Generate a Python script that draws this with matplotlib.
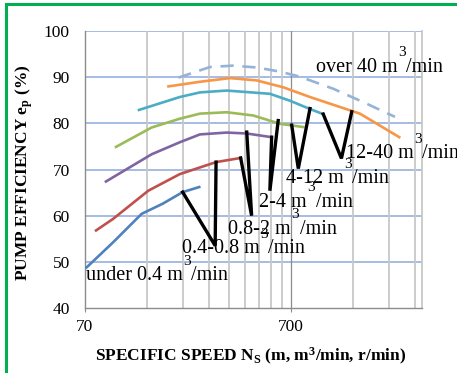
import matplotlib
matplotlib.use("Agg")
import matplotlib.pyplot as plt
from matplotlib.patches import Rectangle
from matplotlib.ticker import FixedLocator, NullFormatter

plt.rcParams['font.family'] = ['Liberation Serif', 'DejaVu Serif']
plt.rcParams['mathtext.fontset'] = 'custom'
plt.rcParams['mathtext.rm'] = 'Liberation Serif'
plt.rcParams['mathtext.bf'] = 'Liberation Serif:bold'
plt.rcParams['mathtext.default'] = 'bf'

# efficiency curves (Ns, %)
under04_x = [71.3, 95.7, 131.9, 167, 208.6, 251]
under04_y = [48.8, 54.2, 60.4, 62.6, 65.1, 66.2]
r04_08_x = [79.2, 95.8, 142, 202, 303, 399]
r04_08_y = [56.8, 59.3, 65.4, 69.0, 71.6, 72.5]
r08_2_x = [88.5, 147.5, 202, 253, 341, 427, 564]
r08_2_y = [67.4, 73.3, 75.9, 77.6, 78.0, 77.8, 77.0]
r2_4_x = [99, 147.5, 202, 253, 341, 459, 619, 803]
r2_4_y = [74.9, 79.1, 81.0, 82.1, 82.4, 81.7, 79.9, 79.2]
r4_12_x = [128, 202, 253, 341, 553, 692, 866, 1004]
r4_12_y = [82.9, 85.7, 86.7, 87.1, 86.4, 84.9, 83.1, 82.0]
r12_40_x = [178, 253, 354, 477, 643, 866, 1513, 2350]
r12_40_y = [88.0, 89.0, 89.8, 89.3, 87.8, 85.7, 82.1, 77.0]
over40_x = [199, 283, 366, 477, 619, 774, 1122, 1570, 2240]
over40_y = [89.9, 92.2, 92.5, 92.1, 91.2, 90.1, 87.5, 84.6, 81.4]

# black leader zigzags (curve -> label point -> next curve)
lead_x = [[208.6, 300, 303], [399, 451, 427], [564, 553, 607],
          [706, 760, 866], [1004, 1231, 1381]]
lead_y = [[65.1, 53.5, 71.6], [72.5, 60.0, 78.1], [77.0, 65.4, 80.6],
          [79.6, 70.2, 83.2], [82.0, 72.4, 82.5]]

label_txt = ["under 0.4", "0.4-0.8", "0.8-2", "2-4", "4-12", "12-40", "over 40"]
label_x = [70.5, 206, 347, 491, 662, 1294, 925]
label_y = [47.0, 52.8, 57.1, 62.9, 68.0, 73.4, 92.2]

fig = plt.figure(figsize=(4.57, 3.73), dpi=100)
ax = fig.add_axes([85/457, 1-308/373, 337/457, 277/373])

ax.set_xscale('log')
ax.set_xlim(70, 3030)
ax.set_ylim(40, 100)

for y in range(50, 101, 10):
    ax.axhline(y, color='#8EAADB', lw=1.1, zorder=1)
minors = [140, 210, 280, 350, 420, 490, 560, 630, 1400, 2100, 2800]
for x in minors:
    ax.axvline(x, color='#C8C8C8', lw=1.3, zorder=1)
ax.axvline(700, color='#8C8C8C', lw=0.9, zorder=1)

ax.plot(under04_x, under04_y, color='#4F81BD', lw=1.9, zorder=3)
ax.plot(r04_08_x, r04_08_y, color='#C0504D', lw=1.9, zorder=3)
ax.plot(r08_2_x, r08_2_y, color='#8064A2', lw=1.9, zorder=3)
ax.plot(r2_4_x, r2_4_y, color='#9BBB59', lw=1.9, zorder=3)
ax.plot(r4_12_x, r4_12_y, color='#4BACC6', lw=1.9, zorder=3)
ax.plot(r12_40_x, r12_40_y, color='#F79646', lw=1.9, zorder=3)
ax.plot(over40_x, over40_y, color='#95B3D7', lw=1.9, dashes=(5, 3.3), zorder=3)
for lx, ly in zip(lead_x, lead_y):
    ax.plot(lx, ly, color='black', lw=2.4, zorder=4, solid_joinstyle='miter')

for t, x, y in zip(label_txt, label_x, label_y):
    t1 = ax.text(x, y, t + " m", fontsize=14.5, va='center', ha='left', zorder=5)
    t2 = ax.annotate("3", xy=(1, 0.5), xycoords=t1, xytext=(0.5, 10.5),
                     textcoords='offset points', fontsize=11, va='center', ha='left')
    ax.annotate("/min", xy=(1, 0.5), xycoords=(t2, t1), xytext=(0.3, 0),
                textcoords='offset points', fontsize=14.5, va='center', ha='left')

ax.xaxis.set_major_locator(FixedLocator([70, 700]))
ax.xaxis.set_minor_locator(FixedLocator([]))
ax.set_xticklabels(['70', '700'])
ax.xaxis.set_minor_formatter(NullFormatter())
ax.set_yticks(range(40, 101, 10))
ax.tick_params(axis='x', length=3, color='#8C8C8C', labelsize=12.5, pad=5)
ax.tick_params(axis='y', length=0, labelsize=12.5, pad=11)

for s in ['left', 'bottom']:
    ax.spines[s].set_color('#8C8C8C')
    ax.spines[s].set_linewidth(1.0)
ax.spines['top'].set_visible(False)
ax.spines['right'].set_color('#C8C8C8')
ax.spines['right'].set_linewidth(1.3)

ax.set_xlabel(r'SPECIFIC SPEED N$_{S}$ (m, m$^{3}$/min, r/min)', fontsize=12.5,
              fontweight='bold')
ax.xaxis.set_label_coords(0.49, -0.135)
ax.set_ylabel(r'PUMP EFFICIENCY e$_{p}$ (%)', fontsize=12.5, fontweight='bold')
ax.yaxis.set_label_coords(-0.148, 0.49)

fig.patches.append(Rectangle((6/457, -0.2), 1.2, 1 - 4/373 + 0.2, transform=fig.transFigure,
                             fill=False, edgecolor='#00B050', lw=2.2))

fig.savefig('out.png', dpi=100)
